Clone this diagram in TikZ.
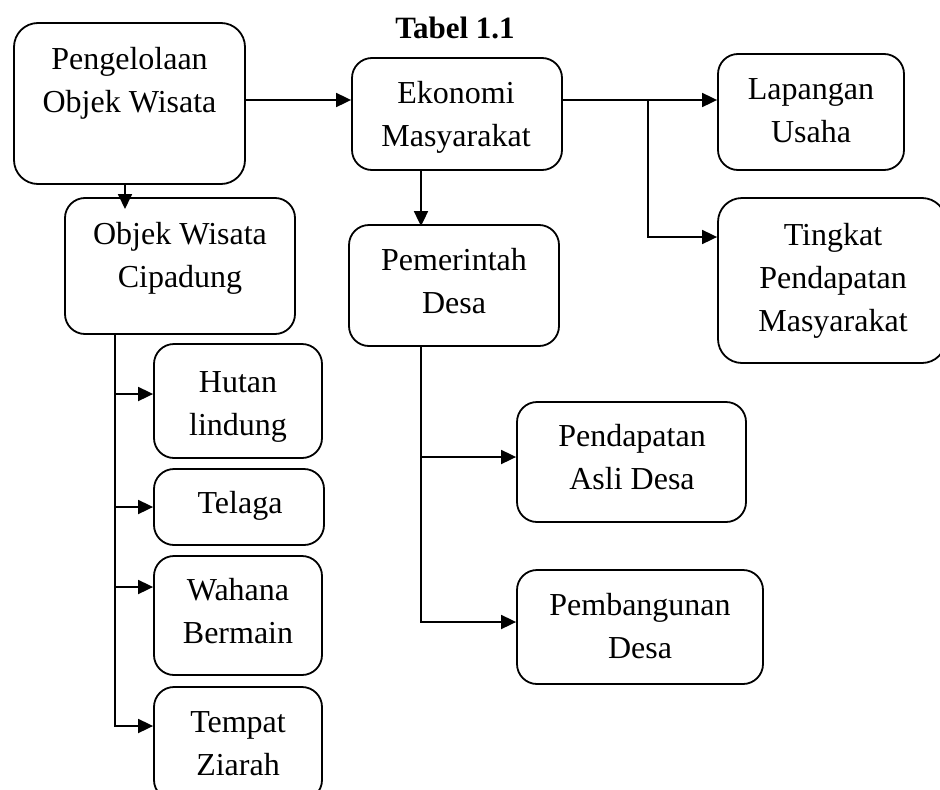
\documentclass[tikz,border=0pt]{standalone}
\usepackage{fontspec}
\setmainfont{Liberation Serif}
\usetikzlibrary{arrows.meta}
\begin{document}
\begin{tikzpicture}[x=1pt,y=-1pt,
  box/.style={draw, line width=1.8pt, rounded corners=20pt, inner sep=0pt},
  txt/.style={font=\fontsize{32}{43}\selectfont, align=center, inner sep=0pt},
  arr/.style={line width=1.8pt, -{Triangle[length=15pt,width=14pt]}},
  ln/.style={line width=1.8pt}]
\useasboundingbox (0,0) rectangle (940,790);

% boxes
\node[box, rounded corners=24pt, minimum width=231pt, minimum height=161pt] (p) at (129.5,103.5) {};
\node[box, minimum width=210pt, minimum height=112pt] (e) at (457,114) {};
\node[box, minimum width=230pt, minimum height=136pt] (o) at (180,266) {};
\node[box, minimum width=210pt, minimum height=121pt] (pd) at (454,285.5) {};
\node[box, minimum width=186pt, minimum height=116pt] (lu) at (811,112) {};
\node[box, rounded corners=24pt, minimum width=228pt, minimum height=165pt] (tp) at (832,280.5) {};
\node[box, minimum width=168pt, minimum height=114pt] (h) at (238,401) {};
\node[box, minimum width=170pt, minimum height=76pt] (t) at (239,507) {};
\node[box, minimum width=168pt, minimum height=119pt] (w) at (238,615.5) {};
\node[box, minimum width=168pt, minimum height=113pt] (tz) at (238,743.5) {};
\node[box, minimum width=229pt, minimum height=120pt] (pad) at (631.5,462) {};
\node[box, minimum width=246pt, minimum height=114pt] (pb) at (640,627) {};

% texts
\node[font=\fontsize{31}{37}\selectfont\bfseries, anchor=base, inner sep=0pt] (title) at (455,38) {Tabel 1.1};
\node[txt] (pT) at (129.5,81.9) {\strut Pengelolaan\\\strut Objek Wisata};
\node[txt] (eT) at (456,115.9) {\strut Ekonomi\\\strut Masyarakat};
\node[txt] (oT) at (180,256.9) {\strut Objek Wisata\\\strut Cipadung};
\node[txt] (pdT) at (454,282.9) {\strut Pemerintah\\\strut Desa};
\node[txt] (luT) at (811,111.9) {\strut Lapangan\\\strut Usaha};
\node[txt] (tpT) at (833,279.4) {\strut Tingkat\\\strut Pendapatan\\\strut Masyarakat};
\node[txt] (hT) at (238,404.9) {\strut Hutan\\\strut lindung};
\node[txt] (tT) at (240,504.4) {\strut Telaga};
\node[txt] (wT) at (238,612.9) {\strut Wahana\\\strut Bermain};
\node[txt] (tzT) at (238,744.9) {\strut Tempat\\\strut Ziarah};
\node[txt] (padT) at (632,459.4) {\strut Pendapatan\\\strut Asli Desa};
\node[txt] (pbT) at (640,627.9) {\strut Pembangunan\\\strut Desa};

% junction points
\coordinate (j1) at (648,100);
\coordinate (j2) at (648,237);
\coordinate (j3) at (125,209);
\coordinate (k1) at (421,457);
\coordinate (k2) at (421,622);
\coordinate (m1) at (115,394);
\coordinate (m2) at (115,507);
\coordinate (m3) at (115,587);
\coordinate (m4) at (115,726);

% connectors
\draw[arr] (p.east |- j1) -- (e.west |- j1);
\draw[arr] (e.east |- j1) -- (lu.west |- j1);
\draw[arr] (j1) -- (j2) -- (tp.west |- j2);
\draw[arr] (p.south -| j3) -- (j3);
\draw[arr] (e.south -| k1) -- ([yshift=-2pt]pd.north -| k1);
\draw[arr] (pd.south -| k1) -- (k2) -- (pb.west |- k2);
\draw[arr] (k1) -- (pad.west |- k1);
\draw[arr] (o.south -| m1) -- (m4) -- (tz.west |- m4);
\draw[arr] (m1) -- (h.west |- m1);
\draw[arr] (m2) -- (t.west |- m2);
\draw[arr] (m3) -- (w.west |- m3);
\end{tikzpicture}
\end{document}
